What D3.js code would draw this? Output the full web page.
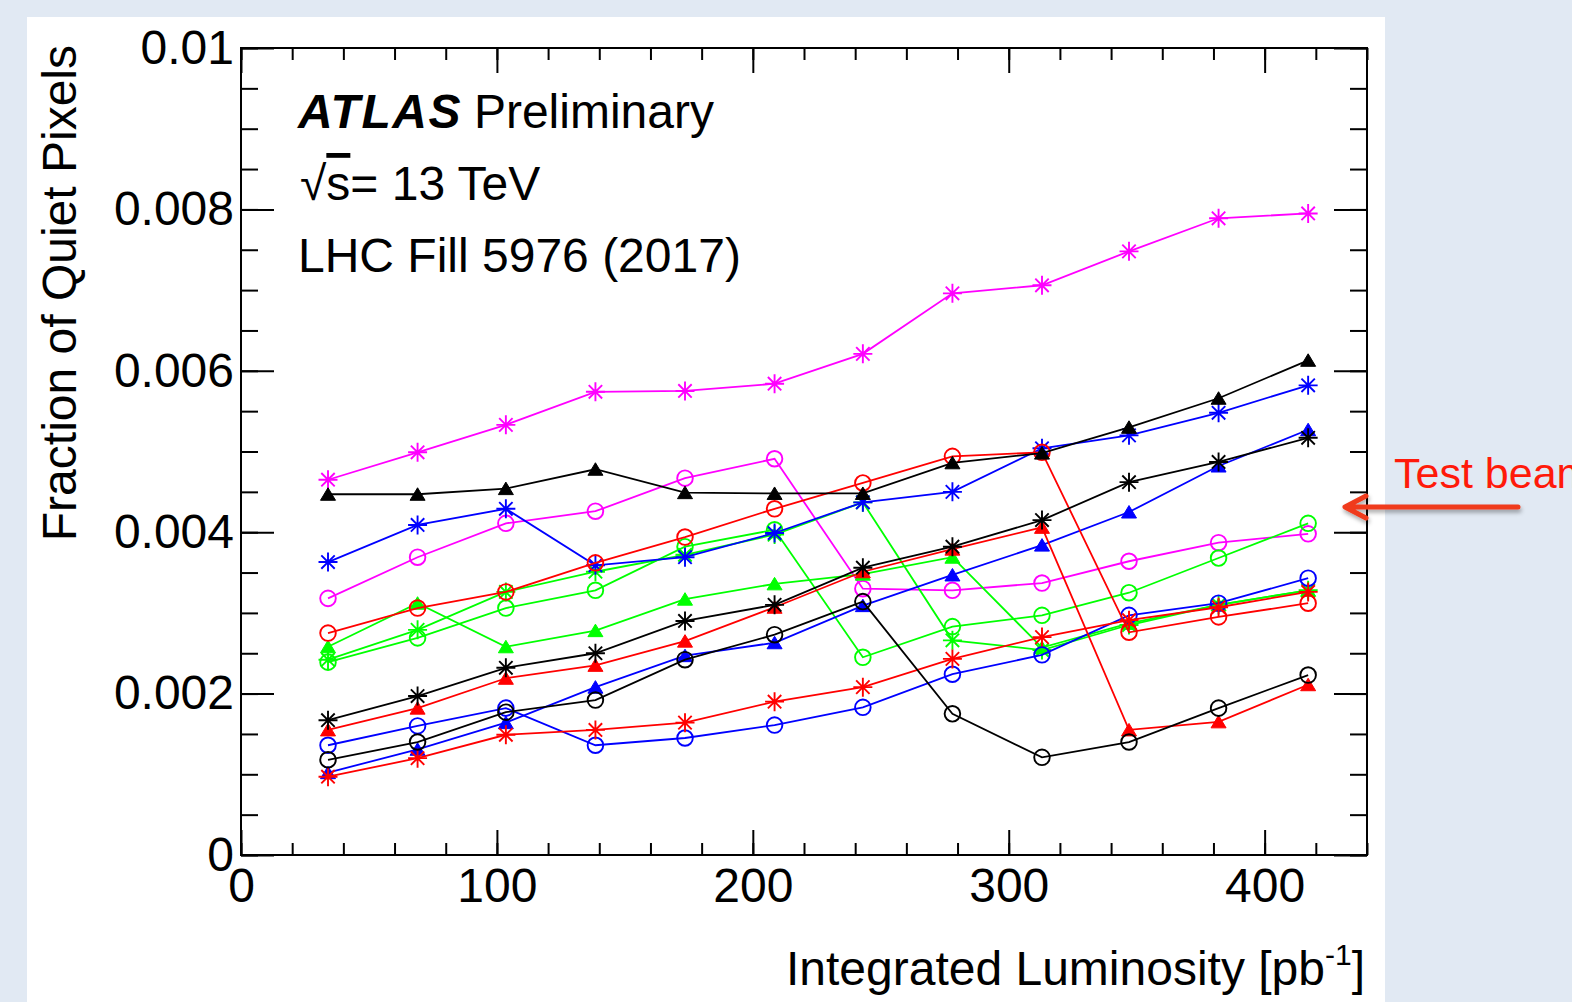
<!DOCTYPE html>
<html>
<head>
<meta charset="utf-8">
<script src="https://cdn.jsdelivr.net/npm/d3@7"></script>
<style>
body { margin: 0; background: #e1e9f3; overflow: hidden; }
svg { display: block; }
text { font-family: 'Liberation Sans', Arial, Helvetica, sans-serif; }
</style>
</head>
<body>
<script>
// integrated luminosity of each measurement [pb^-1]
var lumi = [34, 69, 103.5, 138.5, 173.5, 208.5, 243, 278, 313, 347, 382, 417];

// fraction of quiet pixels, one array per module curve
var magentaStar   = [0.00465, 0.00499, 0.00533, 0.00574, 0.00575, 0.00584, 0.00621, 0.00696, 0.00706, 0.00748, 0.00789, 0.00795];
var blackTri      = [0.00447, 0.00447, 0.00454, 0.00478, 0.00449, 0.00448, 0.00448, 0.00486, 0.00498, 0.00530, 0.00566, 0.00613];
var blueStar      = [0.00363, 0.00409, 0.00429, 0.00359, 0.00369, 0.00399, 0.00437, 0.00450, 0.00504, 0.00520, 0.00548, 0.00582];
var magentaCircle = [0.00318, 0.00369, 0.00411, 0.00426, 0.00467, 0.00491, 0.00330, 0.00328, 0.00337, 0.00364, 0.00387, 0.00398];
var redCircle     = [0.00275, 0.00306, 0.00326, 0.00362, 0.00394, 0.00429, 0.00461, 0.00494, 0.00499, 0.00276, 0.00295, 0.00312];
var greenTri      = [0.00258, 0.00312, 0.00258, 0.00278, 0.00317, 0.00336, 0.00348, 0.00369, 0.00257, 0.00287, 0.00310, 0.00328];
var greenCircle   = [0.00239, 0.00269, 0.00306, 0.00328, 0.00382, 0.00403, 0.00245, 0.00283, 0.00297, 0.00325, 0.00368, 0.00411];
var greenStar     = [0.00242, 0.00279, 0.00326, 0.00351, 0.00372, 0.00397, 0.00437, 0.00266, 0.00254, 0.00285, 0.00310, 0.00328];
var blackStar     = [0.00167, 0.00197, 0.00232, 0.00250, 0.00290, 0.00310, 0.00356, 0.00382, 0.00415, 0.00462, 0.00487, 0.00517];
var redTri        = [0.00155, 0.00182, 0.00219, 0.00235, 0.00265, 0.00307, 0.00351, 0.00379, 0.00406, 0.00155, 0.00165, 0.00211];
var blueTri       = [0.00102, 0.00131, 0.00164, 0.00208, 0.00247, 0.00263, 0.00309, 0.00347, 0.00384, 0.00425, 0.00482, 0.00527];
var blackCircle   = [0.00118, 0.00140, 0.00177, 0.00192, 0.00242, 0.00273, 0.00314, 0.00175, 0.00121, 0.00140, 0.00182, 0.00223];
var blueCircle    = [0.00136, 0.00160, 0.00182, 0.00136, 0.00145, 0.00161, 0.00183, 0.00224, 0.00248, 0.00297, 0.00312, 0.00343];
var redStar       = [0.00097, 0.00120, 0.00149, 0.00155, 0.00164, 0.00190, 0.00208, 0.00243, 0.00270, 0.00291, 0.00307, 0.00326];

var xTicks = [0, 100, 200, 300, 400];
var xTickLabels = ["0", "100", "200", "300", "400"];
var yTicks = [0, 0.002, 0.004, 0.006, 0.008, 0.01];
var yTickLabels = ["0", "0.002", "0.004", "0.006", "0.008", "0.01"];

var series = [
  {values: magentaStar,   color: "#ff00ff", marker: "star"},
  {values: magentaCircle, color: "#ff00ff", marker: "circle"},
  {values: greenCircle,   color: "#00ff00", marker: "circle"},
  {values: greenStar,     color: "#00ff00", marker: "star"},
  {values: greenTri,      color: "#00ff00", marker: "tri"},
  {values: blueCircle,    color: "#0000ff", marker: "circle"},
  {values: blueStar,      color: "#0000ff", marker: "star"},
  {values: blueTri,       color: "#0000ff", marker: "tri"},
  {values: redCircle,     color: "#ff0000", marker: "circle"},
  {values: redStar,       color: "#ff0000", marker: "star"},
  {values: redTri,        color: "#ff0000", marker: "tri"},
  {values: blackCircle,   color: "#000000", marker: "circle"},
  {values: blackStar,     color: "#000000", marker: "star"},
  {values: blackTri,      color: "#000000", marker: "tri"}
];

var width = 1572,
    height = 1002,
    padLeft = 241, padRight = 1367, padTop = 48, padBottom = 855;

var x_scale = d3.scaleLinear().domain([0, 440]).range([padLeft, padRight]);
var y_scale = d3.scaleLinear().domain([0, 0.01]).range([padBottom, padTop]);

var svg = d3.select("body")
  .append("svg")
    .attr("width", width)
    .attr("height", height);

var defs = svg.append("defs");
defs.append("filter").attr("id", "shadow")
    .attr("x", "-10%").attr("y", "-50%").attr("width", "120%").attr("height", "200%")
  .append("feDropShadow")
    .attr("dx", 1).attr("dy", 3).attr("stdDeviation", 2)
    .attr("flood-color", "#000").attr("flood-opacity", 0.35);

// white slide panel
svg.append("rect")
    .attr("x", 27).attr("y", 17)
    .attr("width", 1358).attr("height", 1000)
    .attr("fill", "#ffffff");

/* ticks: ROOT style, inside on all four sides */
function axisStyle(g) {
  g.select(".domain").remove();
  g.selectAll("line").attr("stroke", "#000").attr("stroke-width", 2);
  g.selectAll("text").attr("font-size", 48).attr("fill", "#000")
    .attr("font-family", "'Liberation Sans', Arial, sans-serif");
}

var xMinor = d3.range(0, 441, 20);
var yMinor = d3.range(0, 0.01001, 0.0005);

svg.append("g").attr("transform", "translate(0," + padBottom + ")")
  .call(d3.axisBottom(x_scale).tickValues(xMinor).tickSize(-12).tickFormat(""))
  .call(axisStyle);
svg.append("g").attr("class", "x axis").attr("transform", "translate(0," + padBottom + ")")
  .call(d3.axisBottom(x_scale).tickValues(xTicks).tickSizeInner(-25).tickSizeOuter(0)
        .tickPadding(13).tickFormat(function(d, i){ return xTickLabels[i]; }))
  .call(axisStyle);
svg.append("g").attr("transform", "translate(0," + padTop + ")")
  .call(d3.axisTop(x_scale).tickValues(xMinor).tickSize(-12).tickFormat(""))
  .call(axisStyle);
svg.append("g").attr("transform", "translate(0," + padTop + ")")
  .call(d3.axisTop(x_scale).tickValues(xTicks).tickSize(-25).tickFormat(""))
  .call(axisStyle);

svg.append("g").attr("transform", "translate(" + padLeft + ",0)")
  .call(d3.axisLeft(y_scale).tickValues(yMinor).tickSize(-17).tickFormat(""))
  .call(axisStyle);
svg.append("g").attr("class", "y axis").attr("transform", "translate(" + padLeft + ",0)")
  .call(d3.axisLeft(y_scale).tickValues(yTicks).tickSizeInner(-33).tickSizeOuter(0)
        .tickPadding(7).tickFormat(function(d, i){ return yTickLabels[i]; }))
  .call(axisStyle);
svg.append("g").attr("transform", "translate(" + padRight + ",0)")
  .call(d3.axisRight(y_scale).tickValues(yMinor).tickSize(-17).tickFormat(""))
  .call(axisStyle);
svg.append("g").attr("transform", "translate(" + padRight + ",0)")
  .call(d3.axisRight(y_scale).tickValues(yTicks).tickSize(-33).tickFormat(""))
  .call(axisStyle);

svg.append("rect")
    .attr("x", padLeft).attr("y", padTop)
    .attr("width", padRight - padLeft).attr("height", padBottom - padTop)
    .attr("fill", "none").attr("stroke", "#000").attr("stroke-width", 2);

// marker shapes
var markerPath = {
  star: "M-9.5,0L9.5,0M0,-9.5L0,9.5M-6.7,-6.7L6.7,6.7M-6.7,6.7L6.7,-6.7",
  circle: "M7.8,0A7.8,7.8 0 1,1 -7.8,0A7.8,7.8 0 1,1 7.8,0Z",
  tri: "M0,-6.5L7.5,6L-7.5,6Z"
};

var line = d3.line()
  .x(function(d, i){ return x_scale(lumi[i]); })
  .y(function(d){ return y_scale(d); });

series.forEach(function(s) {
  var g = svg.append("g");
  g.append("path")
    .attr("d", line(s.values))
    .attr("fill", "none")
    .attr("stroke", s.color)
    .attr("stroke-width", 1.8);
  g.selectAll("path.mk")
    .data(s.values)
    .enter()
    .append("path")
      .attr("class", "mk")
      .attr("transform", function(d, i){ return "translate(" + x_scale(lumi[i]) + "," + y_scale(d) + ")"; })
      .attr("d", markerPath[s.marker])
      .attr("fill", s.marker == "tri" ? s.color : "none")
      .attr("stroke", s.color)
      .attr("stroke-width", s.marker == "tri" ? 1 : 1.9);
});

// labels
svg.append("text")
    .attr("transform", "translate(76,45) rotate(-90)")
    .attr("text-anchor", "end")
    .attr("font-size", 48)
    .text("Fraction of Quiet Pixels");

var xt = svg.append("text")
    .attr("x", 1365).attr("y", 985)
    .attr("text-anchor", "end")
    .attr("font-size", 48);
xt.append("tspan").text("Integrated Luminosity [pb");
xt.append("tspan").attr("font-size", 30).attr("dy", -20).text("-1");
xt.append("tspan").attr("dy", 20).text("]");

var atl = svg.append("text").attr("x", 298).attr("y", 128).attr("font-size", 48);
atl.append("tspan").attr("font-weight", "bold").attr("font-style", "italic")
    .attr("letter-spacing", 1.5).text("ATLAS");
atl.append("tspan").attr("dx", 12).text("Preliminary");

var rs = svg.append("text").attr("x", 300).attr("y", 200).attr("font-size", 48);
rs.append("tspan").text("√");
rs.append("tspan").attr("text-decoration", "overline").text("s");
rs.append("tspan").text("= 13 TeV");

svg.append("text").attr("x", 298).attr("y", 272).attr("font-size", 48)
    .text("LHC Fill 5976 (2017)");

// test beam annotation (runs off the slide edge as in the original)
svg.append("text").attr("x", 1394).attr("y", 488).attr("font-size", 43)
    .attr("fill", "#ff1a0a").text("Test beam");
svg.append("path")
    .attr("d", "M1518,507L1346,507M1366,496L1345,507L1366,518")
    .attr("fill", "none")
    .attr("stroke", "#f03a1e")
    .attr("stroke-width", 5)
    .attr("stroke-linecap", "round")
    .attr("stroke-linejoin", "round")
    .attr("filter", "url(#shadow)");
</script>
</body>
</html>
